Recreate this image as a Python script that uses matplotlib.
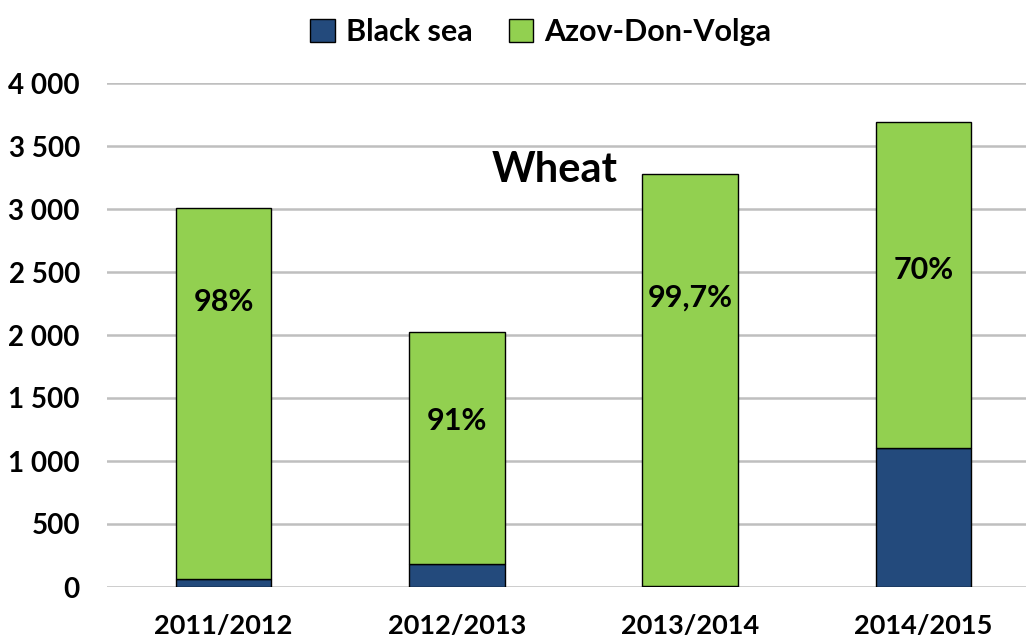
import matplotlib.pyplot as plt
import numpy as np

plt.rcParams["font.family"] = ["Lato", "DejaVu Sans"]
plt.rcParams["font.weight"] = "bold"

seasons = ["2011/2012", "2012/2013", "2013/2014", "2014/2015"]
black_sea = np.array([65, 185, 10, 1105])
azov_don_volga = np.array([2940, 1840, 3265, 2585])
share_labels = ["98%", "91%", "99,7%", "70%"]
share_label_y = [2262, 1317, 2294, 2516]

fig = plt.figure(figsize=(10.26, 6.39), dpi=100)
ax = fig.add_axes([107 / 1026, 52 / 639, 1 - 107 / 1026, 504 / 639])

x = np.arange(len(seasons))
width = 0.41
ax.bar(x, black_sea, width, color="#234A7C", edgecolor="black", linewidth=1,
       label="Black sea", zorder=3)
ax.bar(x, azov_don_volga, width, bottom=black_sea, color="#92D050",
       edgecolor="black", linewidth=1, label="Azov-Don-Volga", zorder=3)

for xi, txt, yi in zip(x, share_labels, share_label_y):
    ax.text(xi, yi, txt, ha="center", va="center", fontsize=22,
            fontweight="bold", zorder=4)

ax.text(1.42, 3310, "Wheat", ha="center", va="center", fontsize=30,
        fontweight="bold")

ax.set_xlim(-0.5, 3.44)
ax.set_ylim(0, 4000)
ax.set_yticks(np.arange(0, 4001, 500))
ax.set_yticklabels([f"{v:,}".replace(",", " ") for v in range(0, 4001, 500)])
ax.set_xticks(x)
ax.set_xticklabels(seasons)
ax.tick_params(axis="y", length=0, labelsize=20, pad=19.5)
ax.tick_params(axis="x", length=0, labelsize=19.5, pad=19.5)
for lab in ax.get_xticklabels() + ax.get_yticklabels():
    lab.set_fontweight("bold")

ax.grid(axis="y", color="#BFBFBF", linewidth=1.8, zorder=0)
for s in ax.spines.values():
    s.set_visible(False)

fig.legend(loc="upper center", bbox_to_anchor=(0.527, 1.015), ncol=2,
           frameon=False, fontsize=22, handlelength=0.8, handleheight=0.8,
           handletextpad=0.35, columnspacing=1.2)

fig.savefig("out.png", dpi=100)
